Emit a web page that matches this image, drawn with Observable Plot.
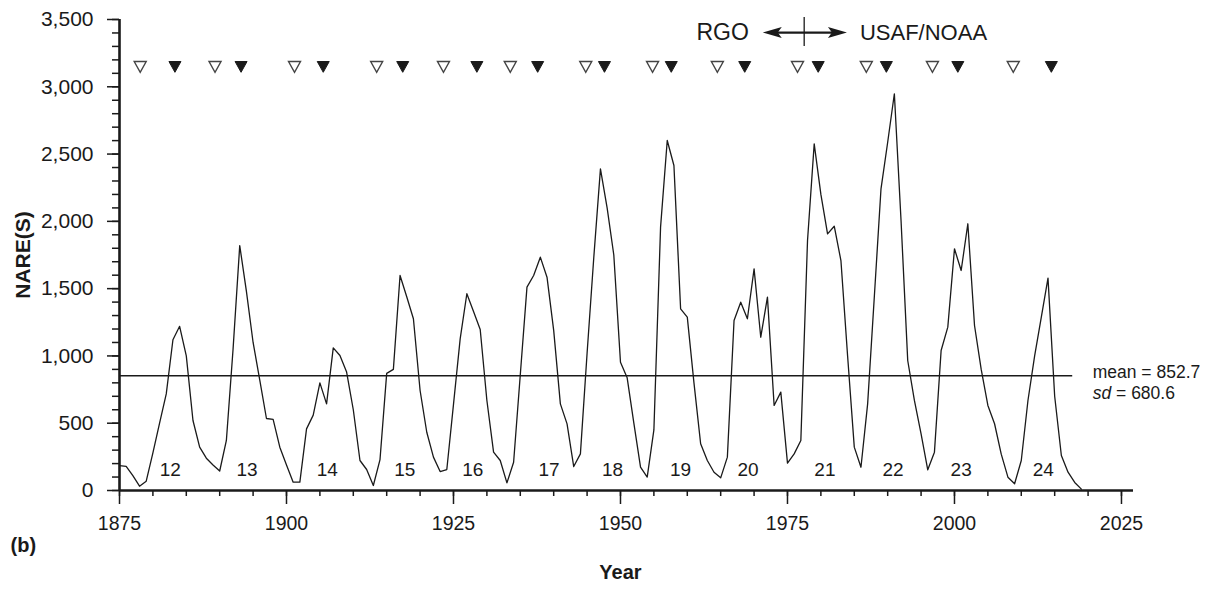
<!DOCTYPE html>
<html><head><meta charset="utf-8">
<script src="https://cdn.jsdelivr.net/npm/d3@7"></script>
<script src="https://cdn.jsdelivr.net/npm/@observablehq/plot@0.6"></script>
<style>
body{margin:0;background:#fff;}
#chart svg{display:block;}
</style></head><body><div id="chart"></div>
<script>
// ---- data ----
const startYear = 1875;
const nare = [
  185,180,110,32,69,280,500,718,1120,1220,          // 1875-1884
  1000,520,322,240,190,145,372,1050,1820,1480,       // 1885-1894
  1100,820,535,528,322,190,62,62,458,560,            // 1895-1904
  800,644,1060,1003,880,600,223,156,37,230,          // 1905-1914
  870,900,1598,1440,1276,743,433,248,141,156,        // 1915-1924
  640,1127,1462,1330,1196,669,285,223,57,210,        // 1925-1934
  860,1511,1598,1734,1585,1190,644,495,178,272,      // 1935-1944
  1020,1730,2390,2100,1750,953,837,500,173,100,      // 1945-1954
  450,1957,2601,2415,1350,1288,800,347,223,136,      // 1955-1964
  94,248,1263,1399,1276,1647,1139,1437,632,731,      // 1965-1974
  203,272,372,1858,2576,2200,1907,1964,1709,1000,    // 1975-1984
  322,173,644,1440,2242,2588,2948,2006,966,669,      // 1985-1994
  420,154,285,1040,1214,1796,1635,1982,1226,900,     // 1995-2004
  632,496,270,99,50,223,669,1000,1288,1578,          // 2005-2014
  700,260,136,60,10                                  // 2015-2019
];
const series = nare.map((v, i) => ({year: startYear + i, value: v}));

const cycleMinYears = [1878.1, 1889.3, 1901.2, 1913.5, 1923.5, 1933.5, 1944.8, 1954.8, 1964.5, 1976.5, 1986.8, 1996.7, 2008.8];
const cycleMaxYears = [1883.3, 1893.2, 1905.5, 1917.4, 1928.5, 1937.6, 1947.6, 1957.6, 1968.6, 1979.6, 1989.8, 2000.5, 2014.5];
const cycleNumbers = ["12","13","14","15","16","17","18","19","20","21","22","23","24"];
const cycleLabelYears = [1882.6, 1894.1, 1906.1, 1917.7, 1927.9, 1939.3, 1948.8, 1959.0, 1969.1, 1980.6, 1990.8, 2001.0, 2013.3];
const markerLevel = 3150;
const cycleLabelLevel = 150;

const meanValue = 852.7;
const sdValue = 680.6;
const meanSpan = [1875, 2017.7];

const sourceSwitchYear = 1977.5;
const sourceNames = ["RGO", "USAF/NOAA"];
const arrowSpan = [1971.3, 1983.9];
const arrowLevel = 3403;
const switchTick = [3300, 3515];

const xTicksMajor = [1875, 1900, 1925, 1950, 1975, 2000, 2025];
const xTicksMinor = [1875,1880,1885,1890,1895,1900,1905,1910,1915,1920,1925,1930,1935,1940,1945,1950,1955,1960,1965,1970,1975,1980,1985,1990,1995,2000,2005,2010,2015,2020,2025];
const yTicksMajor = [0, 500, 1000, 1500, 2000, 2500, 3000, 3500];
const yTicksMinor = [];
for (let v = 0; v <= 3500; v += 100) yTicksMinor.push(v);

const xDomain = [1875, 2026.8];
const yDomain = [0, 3500];

// ---- custom symbols ----
const triDown = {draw(ctx, size) {
  const r = Math.sqrt(size / Math.PI);
  ctx.moveTo(-r, -r * 0.85); ctx.lineTo(r, -r * 0.85); ctx.lineTo(0, r * 0.95); ctx.closePath();
}};
const headRight = {draw(ctx) {
  ctx.moveTo(0, 0); ctx.lineTo(-19, -5.5); ctx.lineTo(-15, 0); ctx.lineTo(-19, 5.5); ctx.closePath();
}};
const headLeft = {draw(ctx) {
  ctx.moveTo(0, 0); ctx.lineTo(19, -5.5); ctx.lineTo(15, 0); ctx.lineTo(19, 5.5); ctx.closePath();
}};

const FONT = "'Liberation Sans', Arial, Helvetica, sans-serif";
const INK = "#1a1a1a";

const chart = Plot.plot({
  width: 1209,
  height: 590,
  marginLeft: 119,
  marginRight: 76,
  marginTop: 19,
  marginBottom: 100,
  x: {domain: xDomain, axis: null},
  y: {domain: yDomain, axis: null},
  style: {fontFamily: FONT, fontSize: "18px", color: INK, background: "#fff", overflow: "visible"},
  marks: [
    Plot.ruleY([meanValue], {x1: meanSpan[0], x2: meanSpan[1], stroke: INK, strokeWidth: 1.3}),
    Plot.line(series, {x: "year", y: "value", stroke: INK, strokeWidth: 1.3}),
    Plot.axisX({ticks: xTicksMinor, tickSize: 6, tickFormat: () => "", label: null, strokeWidth: 1.5}),
    Plot.axisX({ticks: xTicksMajor, tickSize: 14, tickPadding: 12, tickFormat: d => String(d), label: null, strokeWidth: 1.5, fontSize: 19.5}),
    Plot.axisY({ticks: yTicksMinor, tickSize: 7, tickFormat: () => "", label: null, strokeWidth: 1.5}),
    Plot.axisY({ticks: yTicksMajor, tickSize: 12, tickPadding: 14, tickFormat: d3.format(","), label: null, strokeWidth: 1.5, fontSize: 21}),
    Plot.ruleY([0], {stroke: INK, strokeWidth: 2.6}),
    Plot.ruleX([xDomain[0]], {y1: yDomain[0], y2: yDomain[1], stroke: INK, strokeWidth: 2.6}),
    Plot.text(cycleNumbers, {x: (d, i) => cycleLabelYears[i], y: cycleLabelLevel, text: d => d, fontSize: 19, fill: INK}),
    Plot.dot(cycleMinYears, {x: d => d, y: markerLevel, r: 6, symbol: triDown, fill: "#fff", stroke: "#444", strokeWidth: 1.4}),
    Plot.dot(cycleMaxYears, {x: d => d, y: markerLevel, r: 6, symbol: triDown, fill: "#1a1a1a", stroke: "#1a1a1a", strokeWidth: 1}),
    Plot.ruleY([arrowLevel], {x1: arrowSpan[0], x2: arrowSpan[1], stroke: INK, strokeWidth: 2.2, insetLeft: 10, insetRight: 10}),
    Plot.dot([arrowSpan[1]], {x: d => d, y: arrowLevel, symbol: headRight, fill: INK, stroke: "none"}),
    Plot.dot([arrowSpan[0]], {x: d => d, y: arrowLevel, symbol: headLeft, fill: INK, stroke: "none"}),
    Plot.ruleX([sourceSwitchYear], {y1: switchTick[0], y2: switchTick[1], stroke: INK, strokeWidth: 1.3}),
    Plot.text([sourceNames[0]], {x: arrowSpan[0], y: arrowLevel, dx: -14, textAnchor: "end", fontSize: 23, fill: INK}),
    Plot.text([sourceNames[1]], {x: arrowSpan[1], y: arrowLevel, dx: 13, textAnchor: "start", fontSize: 22, fill: INK}),
    Plot.text([`mean = ${meanValue}`], {x: meanSpan[1], y: meanValue, dx: 20, dy: -3, textAnchor: "start", fontSize: 17.5, fill: INK}),
    Plot.text([`sd = ${sdValue}`], {x: meanSpan[1], y: meanValue, dx: 20, dy: 18, textAnchor: "start", fontSize: 17.5, fill: INK, className: "sdlabel"}),
    Plot.text(["NARE(S)"], {frameAnchor: "left", textAnchor: "middle", dx: -96, rotate: -90, fontSize: 21, fontWeight: "bold", fill: INK}),
    Plot.text(["Year"], {x: 1950, frameAnchor: "bottom", dy: 88, fontSize: 20, fontWeight: "bold", fill: INK}),
    Plot.text(["(b)"], {frameAnchor: "bottom-left", textAnchor: "start", dx: -109, dy: 61, fontSize: 20, fontWeight: "bold", fill: INK})
  ]
});

d3.select(chart).selectAll("g.sdlabel text").each(function() {
  const t = this.textContent;
  const rest = t.replace(/^sd/, "");
  this.textContent = "";
  const s = d3.select(this);
  s.append("tspan").attr("font-style", "italic").text("sd");
  s.append("tspan").text(rest);
});

document.getElementById("chart").appendChild(chart);
</script>
</body></html>
